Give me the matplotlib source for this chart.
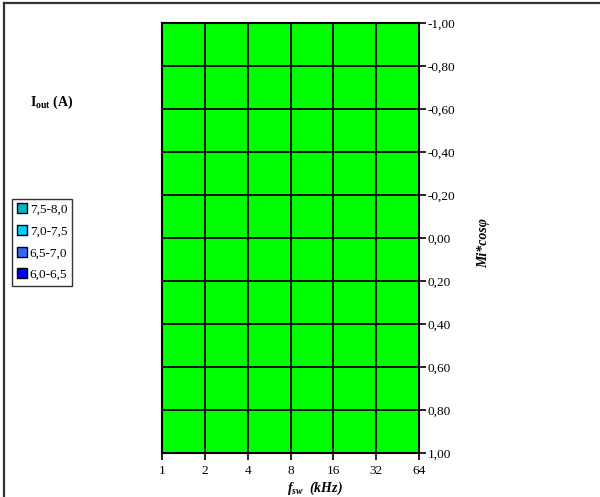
import matplotlib
matplotlib.use("Agg")
import matplotlib.pyplot as plt
from matplotlib.lines import Line2D

plt.rcParams['font.family'] = ['Liberation Serif', 'DejaVu Serif']
plt.rcParams['mathtext.fontset'] = 'custom'
plt.rcParams['mathtext.rm'] = 'Liberation Serif'
plt.rcParams['mathtext.it'] = 'Liberation Serif:italic'
plt.rcParams['mathtext.bf'] = 'Liberation Serif:bold'
plt.rcParams['mathtext.bfit'] = 'Liberation Serif:italic:bold'

freq_ticks = [1, 2, 4, 8, 16, 32, 64]
freq_labels = ['1', '2', '4', '8', '16', '32', '64']
mi_ticks = [-1.0, -0.8, -0.6, -0.4, -0.2, 0.0, 0.2, 0.4, 0.6, 0.8, 1.0]
mi_labels = ['-1,00', '-0,80', '-0,60', '-0,40', '-0,20', '0,00', '0,20', '0,40', '0,60', '0,80', '1,00']
legend_labels = ['7,5-8,0', '7,0-7,5', '6,5-7,0', '6,0-6,5']
legend_colors = ['#00B4C4', '#00CCFF', '#3366FF', '#0000FF']
surface_color = '#00FF00'

fig = plt.figure(figsize=(6.0, 4.97), dpi=100)
W, H = 600, 497
ax = fig.add_axes([162 / W, 1 - 453 / H, (419 - 162) / W, (453 - 23) / H])

ax.set_xscale('log', base=2)
ax.set_xlim(freq_ticks[0], freq_ticks[-1])
ax.set_ylim(mi_ticks[-1], mi_ticks[0])
ax.set_facecolor(surface_color)

ax.set_xticks(freq_ticks)
ax.set_xticklabels(freq_labels)
ax.xaxis.set_minor_locator(matplotlib.ticker.NullLocator())
ax.set_yticks(mi_ticks)
ax.set_yticklabels(mi_labels)
ax.yaxis.tick_right()
ax.tick_params(axis='both', direction='out', length=5, width=1.2, labelsize=9.5, colors='black')
ax.tick_params(axis='x', pad=4)
ax.tick_params(axis='y', pad=1)

ax.grid(True, color='black', linewidth=1.3)
ax.set_axisbelow(False)
for s in ax.spines.values():
    s.set_linewidth(1.5)
    s.set_color('black')

fig.text(315 / W, 1 - 488 / H, r'$\mathbfit{f}_{\mathbfit{sw}}$  $\mathbfit{(kHz)}$', fontsize=10,
         ha='center', va='center')

fig.text(484 / W, 1 - 243 / H, 'Mi*cosφ', rotation=90, fontsize=10, fontweight='bold',
         fontstyle='italic', ha='center', va='center')

fig.text(30 / W, 1 - 102 / H, r'$\mathbf{I_{out}}$ $\mathbf{(A)}$', fontsize=10, ha='left', va='center')

handles = [Line2D([], [], linestyle='none', marker='s', markersize=7, markerfacecolor=c,
                  markeredgecolor='black', markeredgewidth=1.0) for c in legend_colors]
leg = fig.legend(handles, legend_labels, loc='upper left', bbox_to_anchor=(12 / W, 1 - 199 / H),
                 frameon=True, fancybox=False, fontsize=9.5, handlelength=0.8, handletextpad=0.2,
                 borderpad=0.35, labelspacing=0.72, borderaxespad=0)
leg.get_frame().set_edgecolor('black')
leg.get_frame().set_linewidth(1.0)

# outer frame: only left and top edges visible in the reference
fig.add_artist(Line2D([3.5 / W, 3.5 / W], [0, 1 - 2.5 / H], transform=fig.transFigure,
                      color='#333333', linewidth=1.6))
fig.add_artist(Line2D([3.5 / W, 1], [1 - 2.5 / H, 1 - 2.5 / H], transform=fig.transFigure,
                      color='#333333', linewidth=1.6))

fig.savefig('out.png', dpi=100)
